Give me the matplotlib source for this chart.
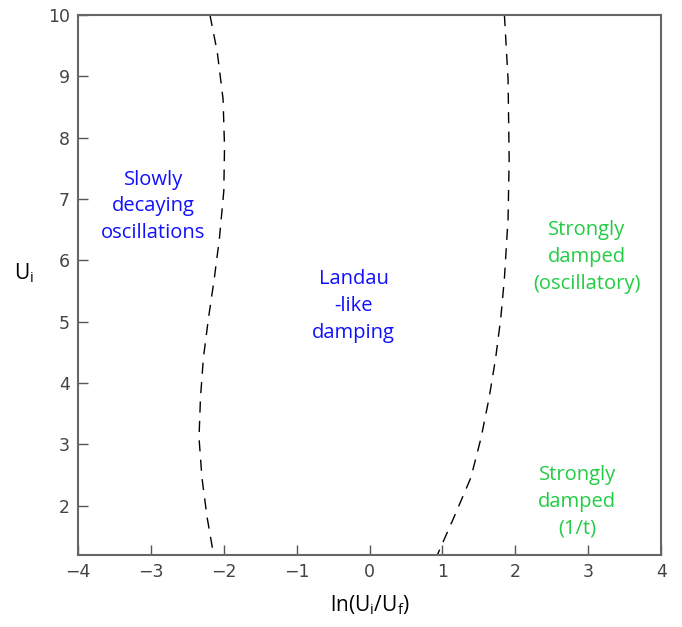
import matplotlib
matplotlib.use('Agg')
import matplotlib.pyplot as plt
import numpy as np

# boundary curves (x = ln(Ui/Uf), y = Ui)
left_y = [10.0, 9.40, 8.63, 7.85, 7.13, 6.36, 5.71, 5.06, 4.41, 3.76, 3.11, 2.46, 1.82, 1.2]
left_x = [-2.19, -2.09, -2.01, -1.99, -2.00, -2.06, -2.13, -2.21, -2.28, -2.32, -2.34, -2.30, -2.23, -2.14]
right_y = [10.0, 8.95, 7.65, 6.68, 5.71, 5.06, 4.41, 3.76, 3.11, 2.46, 1.82, 1.2]
right_x = [1.85, 1.90, 1.915, 1.90, 1.85, 1.80, 1.73, 1.64, 1.53, 1.39, 1.16, 0.93]

labels = ["Slowly\ndecaying\noscillations", "Landau\n-like\ndamping",
          "Strongly\ndamped\n(oscillatory)", "Strongly\ndamped\n(1/t)"]
label_x = [-2.97, -0.22, 2.98, 2.85]
label_y = [6.88, 5.26, 6.06, 2.06]
label_col = ['#1010ff', '#1010ff', '#22cc44', '#22cc44']

fig = plt.figure(figsize=(6.82, 6.27), dpi=100)
ax = fig.add_axes([0.1144, 0.115, 0.855, 0.861])

ax.plot(left_x, left_y, color='black', linestyle=(0, (8, 6)), linewidth=1)
ax.plot(right_x, right_y, color='black', linestyle=(0, (8, 6)), linewidth=1)

for t, x, y, c in zip(labels, label_x, label_y, label_col):
    ax.text(x, y, t, color=c, fontsize=14.5, ha='center', va='center',
            family='Open Sans', linespacing=1.45)

ax.set_xlim(-4, 4)
ax.set_ylim(1.2, 10)
ax.set_xticks(np.arange(-4, 5, 1))
ax.set_yticks(np.arange(2, 11, 1))
ax.tick_params(direction='in', length=7, width=1, labelsize=12.5,
               labelcolor='#444444', color='#555555', pad=6)
for lab in ax.get_xticklabels() + ax.get_yticklabels():
    lab.set_family('DejaVu Sans')
for s in ax.spines.values():
    s.set_color('#666666')
    s.set_linewidth(1.5)

ax.set_xlabel(r'ln(U$_\mathregular{i}$/U$_\mathregular{f}$)', fontsize=15,
              family='Open Sans', labelpad=9)
ax.set_ylabel(r'U$_\mathregular{i}$', fontsize=15, family='Open Sans',
              rotation=0, labelpad=17)

fig.savefig('out.png', dpi=100)
